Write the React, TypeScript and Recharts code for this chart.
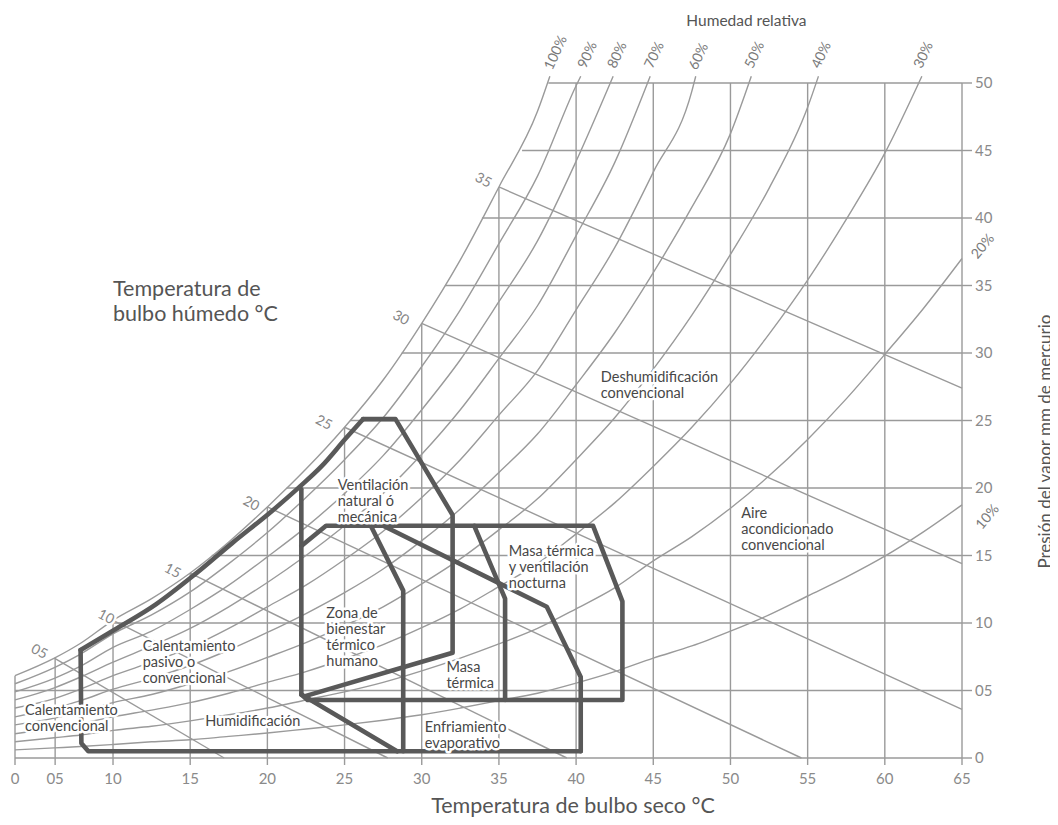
import { ComposedChart, Line, ReferenceDot, XAxis, YAxis } from "recharts";

// ---- axes ----
// the printed chart squeezes the 0..10 end, so "0" and "05" sit closer than the rest
const xTicks = [3.65, 6.25, 10, 15, 20, 25, 30, 35, 40, 45, 50, 55, 60, 65];
const xTickLabels = ["0", "05", "10", "15", "20", "25", "30", "35", "40", "45", "50", "55", "60", "65"];
const yTicks = [0, 5, 10, 15, 20, 25, 30, 35, 40, 45, 50];
const yTickLabels = ["0", "05", "10", "15", "20", "25", "30", "35", "40", "45", "50"];

// where each dry-bulb grid line stops (saturation curve or the 50 line)
const vGridTops = [6.1, 7.4, 10.2, 13.7, 18.6, 24.5, 32.2, 42.3, 50, 50, 50, 50, 50, 50];
// where each vapour-pressure grid line (5..50) starts on the saturation curve
const hGridStarts = [3.65, 9.75, 16.4, 21.25, 25.35, 28.7, 31.5, 33.9, 36.5, 38.2];

// ---- relative humidity curves (mm Hg at each dry-bulb step) ----
const tempSteps = [3.65, 6.2, 7.9, 10, 12.5, 15, 17.5, 20, 22.5, 25, 27.5, 30, 32.5, 35, 37.5, 40, 42.5, 45, 47.5, 50, 52.5, 55, 57.5, 60, 62.5, 65];
const rh100 = [6.1, 7.4, 8.5, 10.2, 11.8, 13.7, 16.0, 18.6, 21.4, 24.5, 28.0, 32.2, 36.9, 42.3, 47.9];
const rh90 = [5.5, 6.7, 7.7, 9.2, 10.6, 12.3, 14.4, 16.7, 19.3, 22.1, 25.2, 29.0, 33.2, 38.1, 43.1, 49.8];
const rh80 = [4.9, 5.9, 6.8, 8.2, 9.4, 11.0, 12.8, 14.9, 17.1, 19.6, 22.4, 25.8, 29.5, 33.8, 38.3, 44.2];
const rh70 = [4.3, 5.2, 6.0, 7.1, 8.3, 9.6, 11.2, 13.0, 15.0, 17.2, 19.6, 22.5, 25.8, 29.6, 33.5, 38.7, 44.1];
const rh60 = [3.7, 4.4, 5.1, 6.1, 7.1, 8.2, 9.6, 11.2, 12.8, 14.7, 16.8, 19.3, 22.1, 25.4, 28.7, 33.2, 37.8, 43.4, 49.4];
const rh50 = [3.05, 3.7, 4.25, 5.1, 5.9, 6.85, 8.0, 9.3, 10.7, 12.25, 14.0, 16.1, 18.45, 21.15, 24.0, 27.65, 31.5, 35.95, 40.8, 46.25];
const rh40 = [2.45, 2.95, 3.4, 4.1, 4.7, 5.5, 6.4, 7.45, 8.55, 9.8, 11.2, 12.9, 14.75, 16.9, 19.2, 22.1, 25.2, 28.8, 32.8, 37.3, 42.2, 48.2];
const rh30 = [1.8, 2.2, 2.55, 3.05, 3.55, 4.1, 4.8, 5.6, 6.4, 7.35, 8.4, 9.65, 11.05, 12.7, 14.4, 16.6, 18.9, 21.6, 24.5, 27.75, 31.4, 35.4, 39.9, 44.8];
const rh20 = [1.2, 1.5, 1.7, 2.05, 2.35, 2.75, 3.2, 3.7, 4.3, 4.9, 5.6, 6.45, 7.4, 8.45, 9.6, 11.05, 12.6, 14.6, 16.4, 18.5, 20.9, 23.6, 26.6, 29.9, 33.3, 37.0];
const rh10 = [0.6, 0.75, 0.85, 1.0, 1.2, 1.35, 1.6, 1.85, 2.15, 2.45, 2.8, 3.2, 3.7, 4.25, 4.8, 5.55, 6.4, 7.4, 8.3, 9.4, 10.6, 12.0, 13.4, 14.95, 16.75, 18.75];
// dry-bulb where the 100%..30% curves run out at the top of the chart
const rhTops = [38.3, 40.3, 42.4, 44.8, 47.75, 51.35, 55.7, 62.4];
const rhLabels = ["100%", "90%", "80%", "70%", "60%", "50%", "40%", "30%", "20%", "10%"];
const rhLabelAt = [[38.1, 51.1], [40.27, 51.2], [42.2, 51.2], [44.6, 51.2], [47.47, 51.1], [51.1, 51.2], [55.42, 51.2], [62.04, 51.2], [65.7, 37.2], [66.0, 17.16]];

// ---- wet-bulb lines ----
const wbLabels = ["35", "30", "25", "20", "15", "10", "05"];
const wbStart = [[35, 42.3], [30, 32.2], [25, 24.5], [20, 18.6], [15, 13.7], [10, 10.2], [6.2, 7.4]];
const wbEnd = [[65, 27.4], [65, 14.4], [65, 3.6], [54.6, 0], [39.4, 0], [27.8, 0], [17.2, 0]];
const wbLabelAt = [[34.04, 42.9], [28.7, 32.7], [23.7, 24.95], [19.0, 18.95], [13.9, 13.97], [9.6, 10.56], [5.27, 7.98]];

// ---- bioclimatic zones (dry bulb, vapour pressure) ----
const envelopeBase = [[40.3, 0.5], [8.4, 0.5], [7.95, 1.1], [7.9, 8.0]];
const envelopeCurve = [[7.9, 8.0], [10.1, 9.5], [12.8, 11.4], [15.3, 13.6], [17.7, 15.9], [20.3, 18.3], [22.1, 20.1], [23.5, 21.6], [25.1, 23.7], [26.2, 25.1]];
const envelopeTop = [[26.2, 25.1], [28.3, 25.1], [32.0, 18.0], [32.0, 7.8], [22.5, 4.6]];
const comfortLeft = [[22.2, 19.9], [22.2, 4.7]];
const massNight = [[22.2, 15.7], [23.8, 17.2], [41.1, 17.2], [43.0, 11.6], [43.0, 4.3], [22.6, 4.3], [22.2, 4.7]];
const comfortRight = [[26.7, 17.2], [28.8, 12.4], [28.8, 0.5]];
const evapTop = [[27.5, 17.2], [38.1, 11.2], [40.3, 6.0], [40.3, 0.5]];
const massRight = [[33.4, 17.2], [35.4, 11.8], [35.4, 4.3]];
const evapLeft = [[22.2, 4.7], [28.4, 0.5]];

// ---- text ----
const zoneNotes = [
  { lines: ["Ventilación", "natural ó", "mecánica"], x: 24.56, y: 20.28 },
  { lines: ["Zona de", "bienestar", "térmico", "humano"], x: 23.82, y: 10.79 },
  { lines: ["Masa", "térmica"], x: 31.6, y: 6.84 },
  { lines: ["Masa térmica", "y ventilación", "nocturna"], x: 35.64, y: 15.38 },
  { lines: ["Enfriamiento", "evaporativo"], x: 30.2, y: 2.4 },
  { lines: ["Calentamiento", "pasivo o", "convencional"], x: 11.92, y: 8.36 },
  { lines: ["Calentamiento", "convencional"], x: 4.3, y: 3.6 },
  { lines: ["Humidificación"], x: 15.97, y: 2.8 },
  { lines: ["Deshumidificación", "convencional"], x: 41.6, y: 28.3 },
  { lines: ["Aire", "acondicionado", "convencional"], x: 50.7, y: 18.24 },
];

type Pt = { x: number; y: number };
const pairs = (arr: number[][]): Pt[] => arr.map(([x, y]) => ({ x, y }));

const FONT = "Lato, 'Open Sans', sans-serif";
const GRID = "#9a9a9a";
const ZONE = "#595959";

const gridLines: Pt[][] = [
  ...xTicks.map((x, i) => [{ x, y: 0 }, { x, y: vGridTops[i] }]),
  ...yTicks.slice(1).map((y, i) => [{ x: hGridStarts[i], y }, { x: 65, y }]),
];
const rhCurves: Pt[][] = [rh100, rh90, rh80, rh70, rh60, rh50, rh40, rh30, rh20, rh10].map((vals, i) => {
  const pts = vals.map((y, j) => ({ x: tempSteps[j], y }));
  return i < rhTops.length ? [...pts, { x: rhTops[i], y: 50.5 }] : pts;
});
const wbLines: Pt[][] = wbStart.map((s, i) => pairs([s, wbEnd[i]]));
const zoneStraight: Pt[][] = [envelopeBase, envelopeTop, comfortLeft, massNight, comfortRight, evapTop, massRight, evapLeft].map(pairs);
const zoneCurved: Pt[][] = [envelopeCurve].map(pairs);

type NoteKind = "zone" | "rhTop" | "rhSide" | "wb" | "title" | "titleV" | "sub";
interface Note { lines: string[]; x: number; y: number; kind: NoteKind }

const noteStyle: Record<NoteKind, { size: number; color: string; rotate: number; anchor: "start" | "middle" | "end"; gap: number; halo: boolean }> = {
  zone: { size: 14.5, color: "#474747", rotate: 0, anchor: "start", gap: 16, halo: true },
  rhTop: { size: 14, color: "#7a7a7a", rotate: -65, anchor: "start", gap: 0, halo: false },
  rhSide: { size: 14, color: "#7a7a7a", rotate: -50, anchor: "start", gap: 0, halo: false },
  wb: { size: 14, color: "#858585", rotate: 28, anchor: "middle", gap: 0, halo: true },
  title: { size: 21.5, color: "#555", rotate: 0, anchor: "start", gap: 24.5, halo: false },
  titleV: { size: 17, color: "#555", rotate: -90, anchor: "middle", gap: 0, halo: false },
  sub: { size: 15.5, color: "#555", rotate: 0, anchor: "start", gap: 0, halo: false },
};

const notes: Note[] = [
  ...zoneNotes.map((n) => ({ ...n, kind: "zone" as NoteKind })),
  ...rhLabels.map((t, i) => ({ lines: [t], x: rhLabelAt[i][0], y: rhLabelAt[i][1], kind: (i < 8 ? "rhTop" : "rhSide") as NoteKind })),
  ...wbLabels.map((t, i) => ({ lines: [t], x: wbLabelAt[i][0], y: wbLabelAt[i][1], kind: "wb" as NoteKind })),
  { lines: ["Humedad relativa"], x: 47.14, y: 54.67, kind: "sub" },
  { lines: ["Temperatura de", "bulbo húmedo °C"], x: 10, y: 34.8, kind: "title" },
  { lines: ["Temperatura de bulbo seco °C"], x: 39.8, y: -3.48, kind: "title" },
  { lines: ["Presión del vapor mm de mercurio"], x: 70.3, y: 23.44, kind: "titleV" },
];

function NoteText({ cx, cy, note }: { cx: number; cy: number; note: Note }) {
  const st = noteStyle[note.kind];
  const anchor = note.kind === "title" && note.lines.length === 1 ? "middle" : st.anchor;
  return (
    <text
      x={cx}
      y={cy}
      transform={st.rotate ? `rotate(${st.rotate} ${cx} ${cy})` : undefined}
      fontFamily={FONT}
      fontSize={st.size}
      fill={st.color}
      textAnchor={anchor}
      dominantBaseline="central"
      stroke={st.halo ? "#fff" : "none"}
      strokeWidth={st.halo ? 5 : 0}
      strokeLinejoin="round"
      paintOrder="stroke"
    >
      {note.lines.map((l, i) => (
        <tspan key={i} x={cx} dy={i === 0 ? 0 : st.gap}>
          {l}
        </tspan>
      ))}
    </text>
  );
}

const lineProps = { dataKey: "y", dot: false, activeDot: false, isAnimationActive: false } as const;

export default function App() {
  return (
    <div style={{ width: 1058, height: 825, margin: -8 }}>
      <ComposedChart width={1058} height={825} margin={{ top: 15.5, right: 36, bottom: 37, left: 15 }} style={{ overflow: "visible" }}>
        <XAxis
          dataKey="x"
          type="number"
          domain={[3.65, 65]}
          ticks={xTicks}
          interval={0}
          tickFormatter={(_v: number, i: number) => xTickLabels[i]}
          height={30}
          tickSize={7}
          tickMargin={8}
          tick={{ fill: "#8a8a8a", fontSize: 15, fontFamily: FONT }}
          tickLine={{ stroke: GRID, strokeWidth: 1.4 }}
          axisLine={{ stroke: GRID, strokeWidth: 1.4 }}
        />
        <YAxis
          type="number"
          orientation="right"
          domain={[0, 55]}
          ticks={yTicks}
          interval={0}
          tickFormatter={(_v: number, i: number) => yTickLabels[i]}
          width={60}
          tickSize={10}
          tickMargin={3}
          tick={{ fill: "#8a8a8a", fontSize: 15, fontFamily: FONT }}
          tickLine={{ stroke: GRID, strokeWidth: 1.4 }}
          axisLine={false}
        />
        {gridLines.map((pts, i) => (
          <Line key={`g${i}`} {...lineProps} data={pts} type="linear" stroke={GRID} strokeWidth={1.4} />
        ))}
        {rhCurves.map((pts, i) => (
          <Line key={`rh${i}`} {...lineProps} data={pts} type="monotone" stroke={GRID} strokeWidth={1.4} />
        ))}
        {wbLines.map((pts, i) => (
          <Line key={`wb${i}`} {...lineProps} data={pts} type="linear" stroke={GRID} strokeWidth={1.4} />
        ))}
        {zoneStraight.map((pts, i) => (
          <Line key={`z${i}`} {...lineProps} data={pts} type="linear" stroke={ZONE} strokeWidth={4.6} strokeLinejoin="round" strokeLinecap="round" />
        ))}
        {zoneCurved.map((pts, i) => (
          <Line key={`zc${i}`} {...lineProps} data={pts} type="monotone" stroke={ZONE} strokeWidth={4.6} strokeLinejoin="round" strokeLinecap="round" />
        ))}
        {notes.map((n, i) => (
          <ReferenceDot
            key={`n${i}`}
            x={n.x}
            y={n.y}
            ifOverflow="visible"
            shape={(p: any) => <NoteText cx={p.cx} cy={p.cy} note={n} />}
          />
        ))}
      </ComposedChart>
    </div>
  );
}
